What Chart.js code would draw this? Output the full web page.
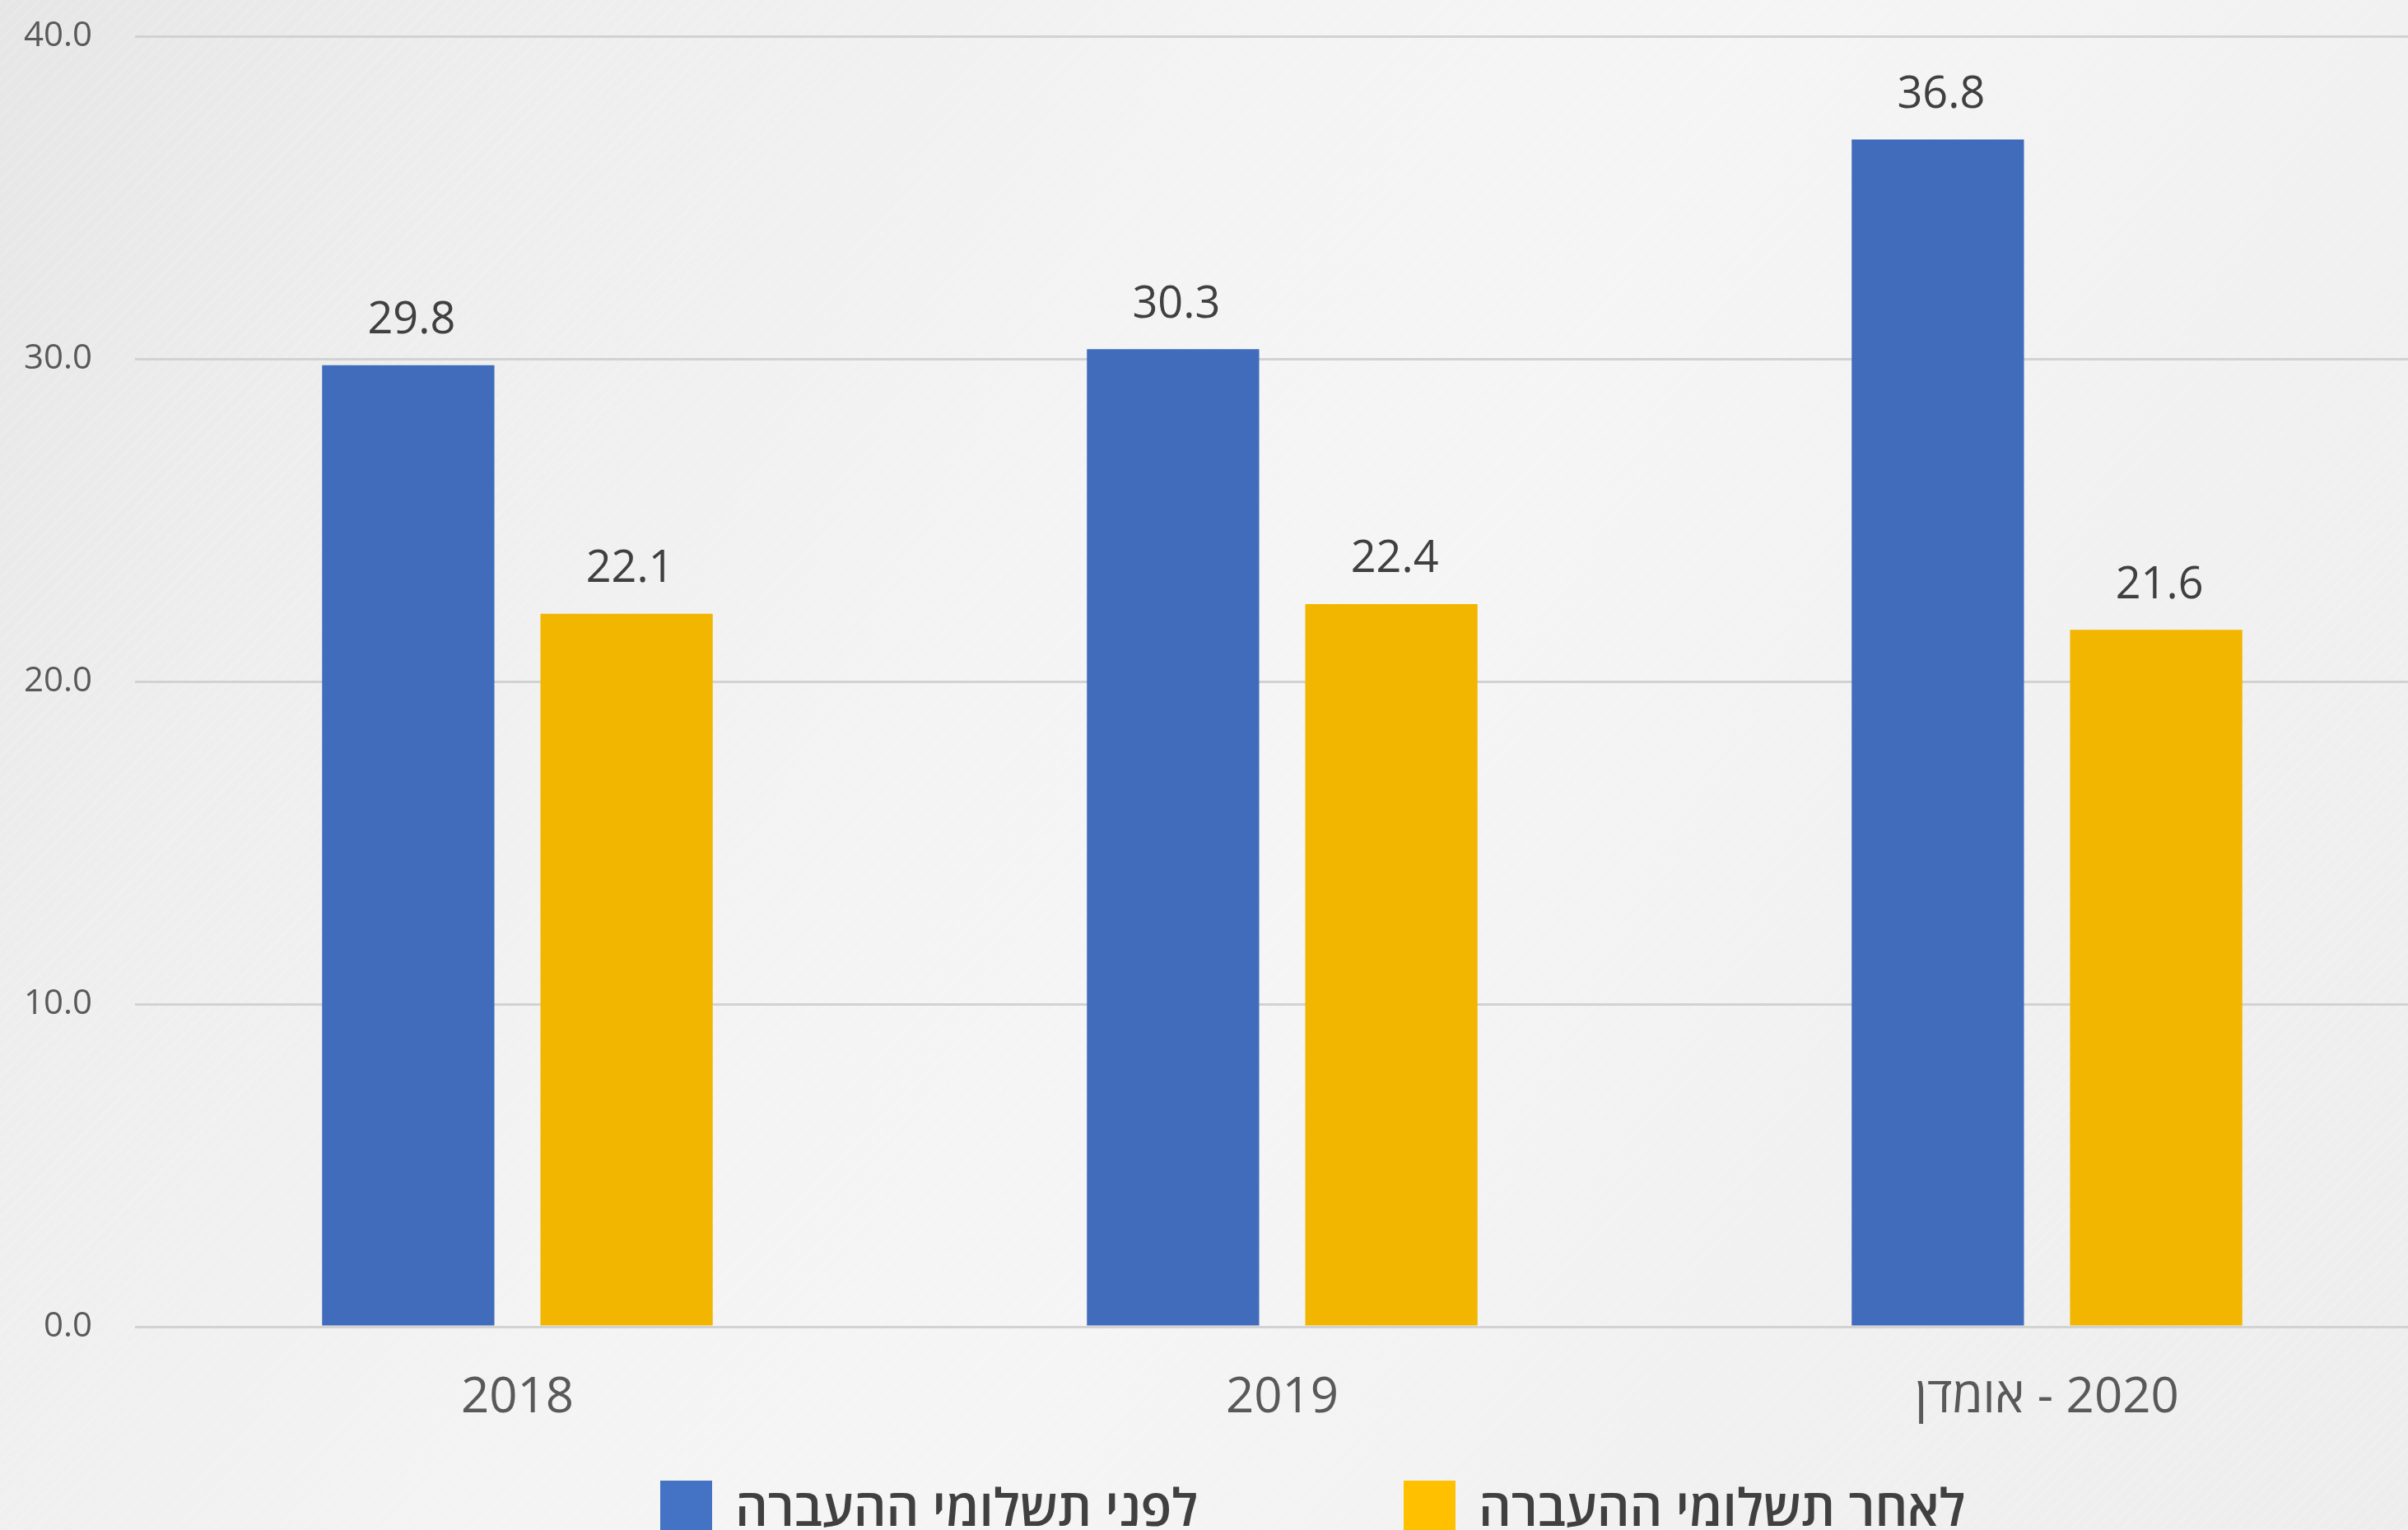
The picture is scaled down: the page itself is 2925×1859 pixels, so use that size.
<!DOCTYPE html>
<html lang="he">
<head>
<meta charset="utf-8">
<title>תשלומי העברה</title>
<script src="https://cdn.jsdelivr.net/npm/chart.js@4.4.1/dist/chart.umd.min.js"></script>
<style>
    html, body {
        margin: 0;
        padding: 0;
        width: 2925px;
        height: 1859px;
        overflow: hidden;
    }
    body {
        position: relative;
        font-family: 'Open Sans', 'Noto Sans', 'DejaVu Sans', sans-serif;
        background:
            repeating-linear-gradient(135deg, rgba(255,255,255,0.10) 0px, rgba(255,255,255,0.10) 3px, rgba(0,0,0,0) 3px, rgba(0,0,0,0) 11px),
            linear-gradient(118deg, #e6e6e6 0%, #eeeeee 18%, #f4f4f4 42%, #f5f5f5 55%, #f1f1f1 75%, #ededed 100%);
    }
    .chart-wrap {
        position: absolute;
        left: 0;
        top: 0;
        width: 2955px;
        height: 1859px;
    }
    #chart {
        direction: rtl;
    }
    .legend {
        position: absolute;
        left: 802px;
        top: 1799px;
        display: flex;
        align-items: center;
    }
    .legend-item {
        display: flex;
        align-items: center;
        min-width: 903px;
    }
    .legend-box {
        width: 63px;
        height: 63px;
        margin-right: 28px;
    }
    .legend-text {
        font-size: 62px;
        font-weight: 600;
        color: #404040;
        line-height: 63px;
        white-space: nowrap;
    }
</style>
</head>
<body>
<div class="chart-wrap">
    <canvas id="chart"></canvas>
</div>
<div class="legend" id="legend"></div>

<script>
// Data
const categories = ['2018', '2019', '2020 - אומדן'];
const seriesNames = ['לפני תשלומי ההעברה', 'לאחר תשלומי ההעברה'];
const beforeTransfers = [29.8, 30.3, 36.8];
const afterTransfers = [22.1, 22.4, 21.6];
const yTicks = [0, 10, 20, 30, 40];

// Colors
const barColors = ['#416cbb', '#f2b600'];
const legendColors = ['#4472c4', '#ffc000'];
const FONT = "'Open Sans', 'Noto Sans', 'DejaVu Sans', sans-serif";

// Value labels above each bar
const valueLabels = {
    id: 'valueLabels',
    afterDatasetsDraw(chart) {
        const ctx = chart.ctx;
        ctx.save();
        ctx.font = '54px ' + FONT;
        ctx.fillStyle = '#404040';
        ctx.textAlign = 'center';
        ctx.textBaseline = 'middle';
        chart.data.datasets.forEach((ds, i) => {
            chart.getDatasetMeta(i).data.forEach((bar, j) => {
                ctx.fillText(ds.data[j].toFixed(1), bar.x + 4, bar.y - 54);
            });
        });
        ctx.restore();
    }
};

const ctx = document.getElementById('chart').getContext('2d');

const chart = new Chart(ctx, {
    type: 'bar',
    data: {
        labels: categories,
        datasets: [
            {
                label: seriesNames[0],
                data: beforeTransfers,
                backgroundColor: barColors[0],
                categoryPercentage: 0.571,
                barPercentage: 0.789
            },
            {
                label: seriesNames[1],
                data: afterTransfers,
                backgroundColor: barColors[1],
                categoryPercentage: 0.571,
                barPercentage: 0.789
            }
        ]
    },
    options: {
        responsive: true,
        maintainAspectRatio: false,
        animation: false,
        layout: {
            padding: { left: 14, right: 4, top: 44, bottom: 117 }
        },
        plugins: {
            legend: { display: false },
            tooltip: { enabled: false }
        },
        scales: {
            x: {
                grid: { display: false },
                border: { display: false },
                ticks: {
                    color: '#595959',
                    padding: 43,
                    font: { family: FONT, size: 60 }
                },
                afterFit: scale => { scale.height = 130; }
            },
            y: {
                min: yTicks[0],
                max: yTicks[yTicks.length - 1],
                grid: {
                    color: '#d2d2d2',
                    lineWidth: 3,
                    drawTicks: false
                },
                border: { display: false },
                afterBuildTicks: scale => {
                    scale.ticks = yTicks.map(v => ({ value: v }));
                },
                ticks: {
                    color: '#595959',
                    padding: 52,
                    font: { family: FONT, size: 42 },
                    callback: value => Number(value).toFixed(1)
                },
                afterFit: scale => {
                    scale.width = 150;
                    // top label only needs the layout padding
                    scale.paddingTop = 0;
                }
            }
        }
    },
    plugins: [valueLabels]
});

// Legend (built from the datasets)
const legendEl = document.getElementById('legend');
chart.data.datasets.forEach((ds, i) => {
    const item = document.createElement('div');
    item.className = 'legend-item';
    const box = document.createElement('span');
    box.className = 'legend-box';
    box.style.background = legendColors[i];
    const text = document.createElement('span');
    text.className = 'legend-text';
    text.dir = 'rtl';
    text.textContent = ds.label;
    item.appendChild(box);
    item.appendChild(text);
    legendEl.appendChild(item);
});
</script>
</body>
</html>
